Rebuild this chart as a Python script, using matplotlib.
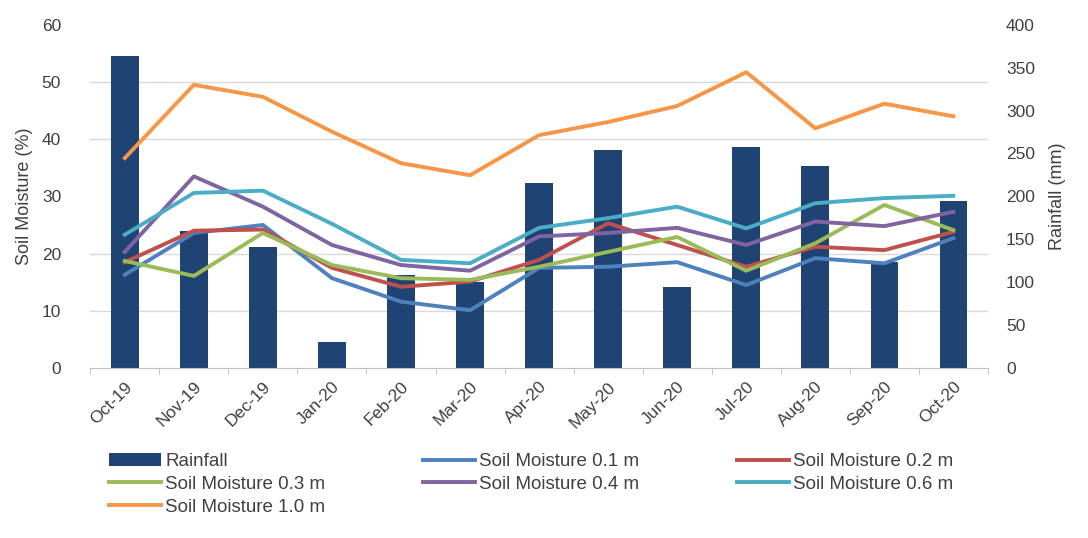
import matplotlib.pyplot as plt
from matplotlib.ticker import MultipleLocator, FixedLocator

months = ['Oct-19', 'Nov-19', 'Dec-19', 'Jan-20', 'Feb-20', 'Mar-20', 'Apr-20',
          'May-20', 'Jun-20', 'Jul-20', 'Aug-20', 'Sep-20', 'Oct-20']

rainfall = [363, 160, 141, 30, 108, 100, 216, 254, 94, 258, 235, 124, 195]

sm_01 = [16.3, 23.6, 25.0, 15.7, 11.6, 10.1, 17.5, 17.7, 18.5, 14.5, 19.2, 18.3, 22.7]
sm_02 = [18.5, 24.0, 24.2, 17.5, 14.2, 15.1, 18.9, 25.3, 21.5, 17.7, 21.2, 20.6, 23.8]
sm_03 = [18.7, 16.1, 23.6, 18.0, 15.7, 15.4, 17.7, 20.3, 22.9, 17.0, 21.8, 28.5, 24.1]
sm_04 = [20.3, 33.5, 28.2, 21.5, 18.0, 17.0, 23.0, 23.6, 24.5, 21.5, 25.6, 24.8, 27.3]
sm_06 = [23.3, 30.6, 31.0, 25.2, 18.9, 18.3, 24.5, 26.2, 28.2, 24.4, 28.8, 29.7, 30.1]
sm_10 = [36.7, 49.5, 47.4, 41.3, 35.8, 33.7, 40.7, 43.0, 45.8, 51.7, 41.9, 46.2, 44.0]

series = [
    ('Soil Moisture 0.1 m', sm_01, '#4F81BD'),
    ('Soil Moisture 0.2 m', sm_02, '#C0504D'),
    ('Soil Moisture 0.3 m', sm_03, '#9BBB59'),
    ('Soil Moisture 0.4 m', sm_04, '#8064A2'),
    ('Soil Moisture 0.6 m', sm_06, '#4BACC6'),
    ('Soil Moisture 1.0 m', sm_10, '#F79646'),
]

plt.rcParams['font.family'] = ['Liberation Sans', 'DejaVu Sans']
txt = '#404040'

fig = plt.figure(figsize=(10.88, 5.38), dpi=100)
ax = fig.add_axes([0.083, 0.316, 0.825, 0.638])
ax2 = ax.twinx()  # twinx resets ax's ticks to the left, so set sides after this
x = list(range(len(months)))

# rainfall bars on the back axis, scale on the right
bars = ax.bar(x, rainfall, width=0.4, color='#1F4474', zorder=2, label='Rainfall')
ax.set_ylim(0, 400)
ax.set_xlim(-0.5, len(months) - 0.5)
ax.yaxis.tick_right()
ax.yaxis.set_label_position('right')
ax.yaxis.set_major_locator(MultipleLocator(50))
ax.yaxis.set_minor_locator(MultipleLocator(400 / 6))
ax.grid(which='minor', axis='y', color='#D9D9D9', lw=1)
ax.set_axisbelow(True)
ax.tick_params(axis='y', which='both', length=0, labelsize=12.5, labelcolor=txt, pad=13)
ax.set_ylabel('Rainfall (mm)', fontsize=13, color=txt, labelpad=10)

ax.set_xticks(x)
ax.set_xticklabels(months, rotation=45, ha='right', rotation_mode='anchor',
                   fontsize=12.5, color=txt)
ax.tick_params(axis='x', which='major', length=0, pad=8)
ax.xaxis.set_minor_locator(FixedLocator([i + 0.5 for i in range(-1, len(months))]))
ax.tick_params(axis='x', which='minor', length=4, color='#BFBFBF')
for s in ['top', 'left', 'right']:
    ax.spines[s].set_visible(False)
ax.spines['bottom'].set_color('#BFBFBF')

# soil moisture lines on top, scale on the left
lines = {}
for name, vals, col in series:
    lines[name], = ax2.plot(x, vals, color=col, lw=2.8, label=name)
ax2.set_ylim(0, 60)
ax2.yaxis.tick_left()
ax2.yaxis.set_label_position('left')
ax2.yaxis.set_major_locator(MultipleLocator(10))
ax2.tick_params(axis='y', length=0, labelsize=12.5, labelcolor=txt, pad=21)
ax2.set_ylabel('Soil Moisture (%)', fontsize=13, color=txt, labelpad=6)
for s in ax2.spines.values():
    s.set_visible(False)

# legend filled row by row like the original (matplotlib fills columns)
order = [bars, lines['Soil Moisture 0.3 m'], lines['Soil Moisture 1.0 m'],
         lines['Soil Moisture 0.1 m'], lines['Soil Moisture 0.4 m'],
         lines['Soil Moisture 0.2 m'], lines['Soil Moisture 0.6 m']]
fig.legend(handles=order, labels=[h.get_label() for h in order],
           loc='upper left', bbox_to_anchor=(0.1, 0.158), ncol=3, frameon=False,
           fontsize=13.5, handlelength=2.8, handletextpad=0.2, columnspacing=5.2,
           labelspacing=0.3, borderpad=0, borderaxespad=0, labelcolor=txt)

plt.savefig('out.png', dpi=100)
plt.close()
